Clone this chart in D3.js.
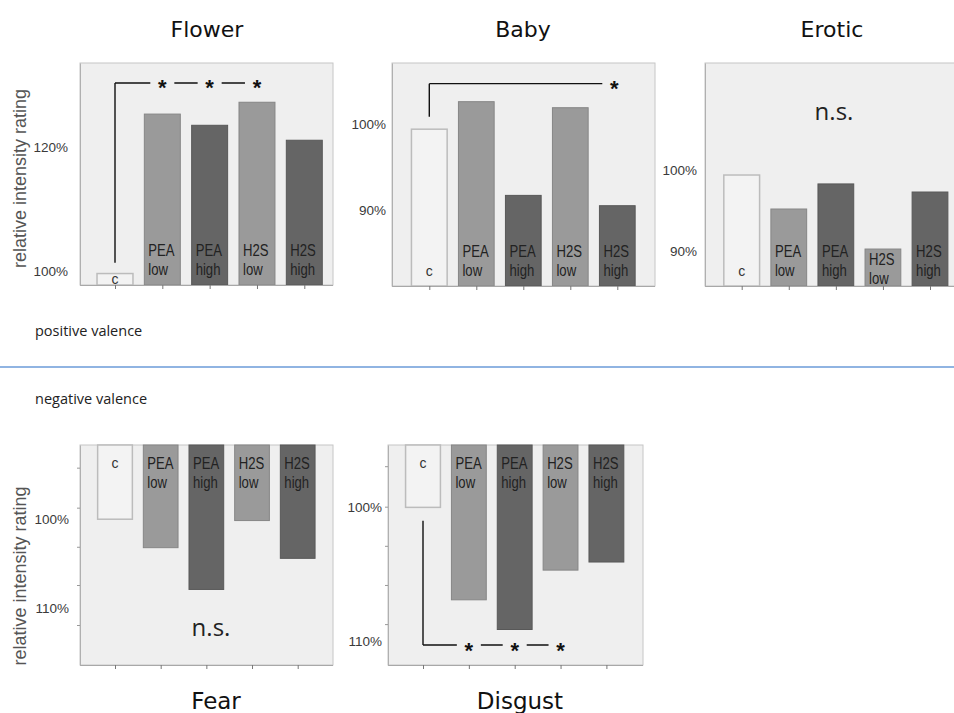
<!DOCTYPE html>
<html>
<head>
<meta charset="utf-8">
<script src="https://cdn.jsdelivr.net/npm/d3@7"></script>
<style>
  body { margin: 0; background: #fff; }
  svg { display: block; }
</style>
</head>
<body>
<svg width="954" height="713"></svg>
<script>
const svg = d3.select("svg");

// groups and their two-line bar labels
const groups = ["c", "PEA low", "PEA high", "H2S low", "H2S high"];
const groupLines = [["c"], ["PEA", "low"], ["PEA", "high"], ["H2S", "low"], ["H2S", "high"]];
const groupFills = ["#f3f3f3", "#9a9a9a", "#656565", "#9a9a9a", "#656565"];
const groupStrokes = ["#bcbcbc", "#868686", "#585858", "#868686", "#585858"];

// relative intensity rating (%)
const flowerValues  = [99.7, 125.3, 123.5, 127.2, 121.1];
const babyValues    = [99.4, 102.6, 91.7, 101.9, 90.5];
const eroticValues  = [99.4, 95.2, 98.3, 90.25, 97.3];
const fearValues    = [100.0, 103.2, 107.9, 100.15, 104.4];
const disgustValues = [100.05, 106.9, 109.1, 104.7, 104.1];

// axis extents (bottom value, top value for upper row; top, bottom for lower row)
const flowerExtent  = [97.86, 133.5];
const babyExtent    = [81.16, 107.1];
const eroticExtent  = [85.68, 113.25];
const fearExtent    = [91.65, 116.4];
const disgustExtent = [95.43, 111.73];

const flowerTicks  = [100, 120];
const babyTicks    = [90, 100];
const eroticTicks  = [90, 100];
const fearTicks    = [100, 110];
const disgustTicks = [100, 110];
const fearMinor    = [94.2, 98.7, 103.1, 107.4, 111.9];
const disgustMinor = [97.0, 100, 102.9, 105.8, 108.7];

// significance brackets: from group, value range of the vertical, star groups
const flowerSig  = { from: 0, v0: 101.45, v1: 130.3, stars: [1, 2, 3] };
const babySig    = { from: 0, v0: 100.85, v1: 104.7, stars: [4] };
const disgustSig = { from: 0, v0: 101.04, v1: 110.25, stars: [1, 2, 3] };

const panels = [
  { title: "Flower", values: flowerValues, extent: flowerExtent, ticks: flowerTicks, box: [80, 63, 333, 285],
    pad: [35, 28.7], up: true, labelPad: 12, sig: flowerSig, titleX: 207, titleY: 37 },
  { title: "Baby", values: babyValues, extent: babyExtent, ticks: babyTicks, box: [392, 63, 655, 286],
    pad: [37.3, 37.7], up: true, labelPad: 6, sig: babySig, titleX: 523, titleY: 37 },
  { title: "Erotic", values: eroticValues, extent: eroticExtent, ticks: eroticTicks, box: [705, 63, 960, 286],
    pad: [36.7, 30], up: true, labelPad: 8, ns: [834, 113], titleX: 832, titleY: 37 },
  { title: "Fear", values: fearValues, extent: fearExtent, ticks: fearTicks, minor: fearMinor, box: [80, 445, 333, 665],
    pad: [35, 35.3], up: false, labelPad: 11, ns: [211, 629], titleX: 216, titleY: 709 },
  { title: "Disgust", values: disgustValues, extent: disgustExtent, ticks: disgustTicks, minor: disgustMinor, box: [388, 445, 643, 665],
    pad: [35, 36.6], up: false, labelPad: 6, sig: disgustSig, titleX: 520, titleY: 709 }
];

panels.forEach(p => {
  const [x0, y0, x1, y1] = p.box;
  const g = svg.append("g");

  const x = d3.scalePoint().domain(groups).range([x0 + p.pad[0], x1 - p.pad[1]]);
  const bw = x.step() * 0.76;
  const y = p.up
    ? d3.scaleLinear().domain(p.extent).range([y1, y0])
    : d3.scaleLinear().domain(p.extent).range([y0, y1]);

  // frame
  g.append("rect")
    .attr("x", x0).attr("y", y0)
    .attr("width", x1 - x0).attr("height", y1 - y0)
    .attr("fill", "#efefef")
    .attr("stroke", "#c6c6c6");

  // bars
  g.selectAll(".bar")
    .data(p.values)
    .enter().append("rect")
    .attr("x", (d, i) => x(groups[i]) - bw / 2)
    .attr("width", bw)
    .attr("y", d => p.up ? y(d) : y0)
    .attr("height", d => p.up ? y1 - y(d) : y(d) - y0)
    .attr("fill", (d, i) => groupFills[i])
    .attr("stroke", (d, i) => groupStrokes[i])
    .attr("stroke-width", (d, i) => i === 0 ? 1.5 : 1);

  // bar labels
  p.values.forEach((v, i) => {
    const lines = groupLines[i];
    const cx = x(groups[i]);
    if (lines.length === 1) {
      const by = p.up ? Math.max(y1 - 10, y(v) + 10) : y0 + 23;
      g.append("text")
        .attr("x", cx).attr("y", by)
        .attr("text-anchor", "middle")
        .style("font", "14px 'Liberation Sans', Arial, sans-serif")
        .attr("fill", "#333")
        .text(lines[0]);
    } else {
      const first = p.up ? Math.max(y1 - 29, y(v) + 16) : y0 + 24;
      lines.forEach((t, k) => {
        g.append("text")
          .attr("transform", `translate(${cx - bw / 2 + 4},${first + k * 19}) scale(0.82,1)`)
          .style("font", "16px 'Liberation Sans', Arial, sans-serif")
          .attr("fill", "#222")
          .text(t);
      });
    }
  });

  // category axis
  const xAxis = g.append("g")
    .attr("transform", `translate(0,${y1})`)
    .call(d3.axisBottom(x).tickSize(4).tickFormat(""));
  xAxis.select(".domain").attr("stroke", "#a8a8a8").attr("d", `M${x0},0.5H${x1}`);
  xAxis.selectAll(".tick line").attr("stroke", "#777");

  // value axis
  const yAxis = g.append("g")
    .attr("transform", `translate(${x0},0)`)
    .call(d3.axisLeft(y).tickValues(p.ticks).tickSize(0).tickPadding(p.labelPad)
      .tickFormat(d => d + "%"));
  yAxis.select(".domain").attr("stroke", "#b0b0b0");
  yAxis.selectAll("text")
    .style("font", "13.5px 'Liberation Sans', Arial, sans-serif")
    .attr("fill", "#3a3a3a");

  if (p.minor) {
    const m = g.append("g")
      .attr("transform", `translate(${x0},0)`)
      .call(d3.axisLeft(y).tickValues(p.minor).tickSize(3).tickFormat(""));
    m.select(".domain").remove();
    m.selectAll("line").attr("stroke", "#999");
  }

  // title
  svg.append("text")
    .attr("x", p.titleX).attr("y", p.titleY)
    .attr("text-anchor", "middle")
    .style("font", `${p.up ? 22 : 23}px 'DejaVu Sans', sans-serif`)
    .attr("fill", "#111")
    .text(p.title);

  // not significant
  if (p.ns) {
    g.append("text")
      .attr("x", p.ns[0]).attr("y", p.ns[1] + 7)
      .attr("text-anchor", "middle")
      .style("font", "24px 'Open Sans', sans-serif")
      .attr("fill", "#222")
      .text("n.s.");
  }

  // significance bracket
  if (p.sig) {
    const s = p.sig;
    const shift = p.title === "Baby" ? -3 : 0;
    const sx = x(groups[s.from]);
    const ly = y(s.v1);
    const gap = 12;
    const path = d3.path();
    path.moveTo(sx, y(s.v0));
    path.lineTo(sx, ly);
    let prev = sx;
    s.stars.forEach((si, k) => {
      const c = x(groups[si]) + shift;
      path.moveTo(k === 0 ? prev : prev + gap, ly);
      path.lineTo(c - gap, ly);
      prev = c;
    });
    g.append("path")
      .attr("d", path.toString())
      .attr("fill", "none")
      .attr("stroke", "#111")
      .attr("stroke-width", 1.4);
    g.selectAll(".star")
      .data(s.stars)
      .enter().append("text")
      .attr("x", d => x(groups[d]) + shift)
      .attr("y", ly + 12.5)
      .attr("text-anchor", "middle")
      .style("font", "bold 22px 'Liberation Sans', Arial, sans-serif")
      .attr("fill", "#111")
      .text("*");
  }
});

// y axis titles
[178.5, 576].forEach(cy => {
  svg.append("text")
    .attr("transform", `translate(26,${cy}) rotate(-90)`)
    .attr("text-anchor", "middle")
    .style("font", "18px 'Liberation Sans', Arial, sans-serif")
    .attr("fill", "#555")
    .text("relative intensity rating");
});

// valence separator
svg.append("line")
  .attr("x1", 0).attr("x2", 954)
  .attr("y1", 367).attr("y2", 367)
  .attr("stroke", "#6b9bd9")
  .attr("stroke-width", 1.5);

svg.append("text")
  .attr("x", 35).attr("y", 336)
  .style("font", "14.5px 'Open Sans', sans-serif")
  .attr("fill", "#222")
  .text("positive valence");

svg.append("text")
  .attr("x", 35).attr("y", 404)
  .style("font", "14.5px 'Open Sans', sans-serif")
  .attr("fill", "#222")
  .text("negative valence");
</script>
</body>
</html>
